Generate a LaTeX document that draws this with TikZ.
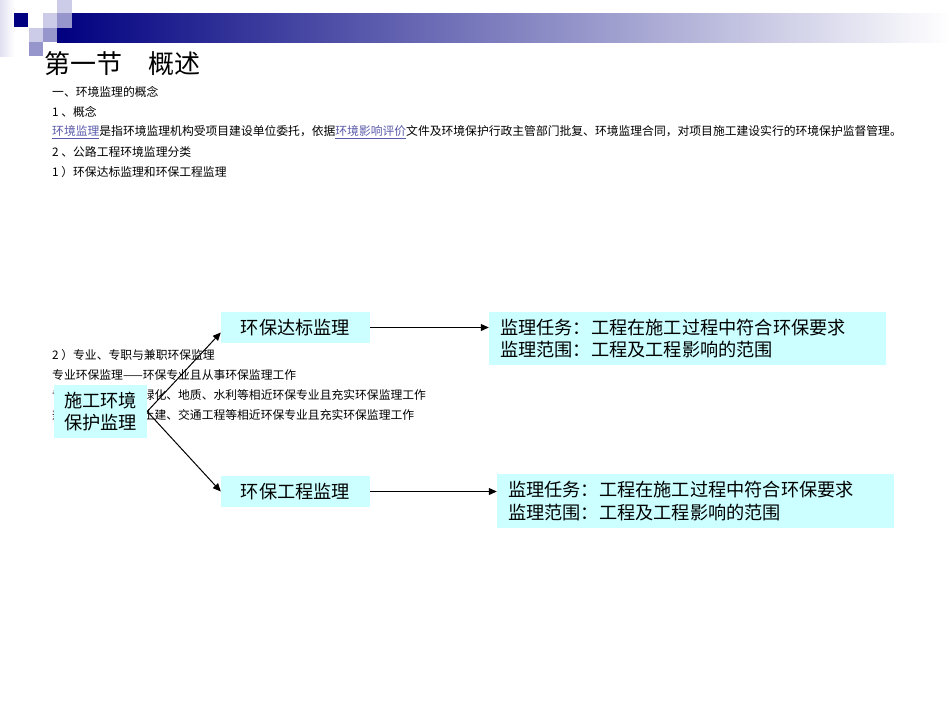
\documentclass[tikz,border=0pt]{standalone}
\usepackage{fontspec}
\setmainfont{Noto Sans CJK SC}
\usetikzlibrary{arrows.meta}
\definecolor{cajacyan}{RGB}{204,255,255}
\definecolor{azulosc}{RGB}{0,0,128}
\definecolor{lila}{RGB}{204,204,232}
\definecolor{lilamed}{RGB}{150,150,204}
\definecolor{enlace}{RGB}{90,90,170}
\begin{document}
\begin{tikzpicture}[x=1pt, y=-1pt,
  txt/.style={anchor=west, inner sep=0pt, font=\fontsize{11.8}{13}\selectfont},
  caja/.style={fill=cajacyan, inner sep=0pt, font=\fontsize{18.2}{22.5}\selectfont},
  flecha/.style={-{Triangle[length=8pt,width=7pt]}, line width=1pt}]
  \useasboundingbox (0,0) rectangle (950,713);

  % Cabecera
  \shade[left color=azulosc, right color=white] (57,13) rectangle (950,42.5);
  \shade[left color=lila!60, right color=white] (0,0) rectangle (14.3,56);
  \fill[azulosc] (14.3,13) rectangle (27.5,27);
  \fill[lila] (43,13) rectangle (57,27.5);
  \fill[lila] (57,0) rectangle (71.5,13);
  \fill[lilamed] (57,13) rectangle (71.5,27.5);
  \fill[lila] (28.6,27.5) rectangle (43,42);
  \fill[lilamed] (43,27.5) rectangle (57,42);
  \fill[lilamed] (28.6,42) rectangle (43,56);
  \node[anchor=west, inner sep=0pt, font=\fontsize{26}{30}\selectfont] (t) at (44,64) {第一节　概述};

  % Texto
  \node[txt] (l1) at (52,92) {一、环境监理的概念};
  \node[txt] (l2) at (52,112) {1 、概念};
  \node[txt] (l3) at (52,132) {\textcolor{enlace}{\underline{环境监理}}是指环境监理机构受项目建设单位委托，依据\textcolor{enlace}{\underline{环境影响评价}}文件及环境保护行政主管部门批复、环境监理合同，对项目施工建设实行的环境保护监督管理。};
  \node[txt] (l4) at (52,152) {2 、公路工程环境监理分类};
  \node[txt] (l5) at (52,172) {1 ）环保达标监理和环保工程监理};
  \node[txt] (m1) at (52,355) {2 ）专业、专职与兼职环保监理};
  \node[txt] (m2) at (52,375) {专业环保监理——环保专业且从事环保监理工作};
  \node[txt] (m3) at (52,395) {专职环保监理——绿化、地质、水利等相近环保专业且充实环保监理工作};
  \node[txt] (m4) at (52,415) {兼职环保监理——土建、交通工程等相近环保专业且充实环保监理工作};

  % Cajas
  \node[caja, minimum width=93pt, minimum height=53pt, align=center] (sg) at (100.5,411.5) {施工环境\\保护监理};
  \node[caja, minimum width=149pt, minimum height=31pt] (db) at (295.5,327.5) {环保达标监理};
  \node[caja, minimum width=149pt, minimum height=31pt] (gc) at (295.5,491.5) {环保工程监理};
  \node[caja, inner xsep=11pt, text width=375pt, minimum height=53pt, align=left] (rdb) at (687.5,338.5) {监理任务：工程在施工过程中符合环保要求\\监理范围：工程及工程影响的范围};
  \node[caja, inner xsep=11pt, text width=375pt, minimum height=54pt, align=left] (rgc) at (695.5,501) {监理任务：工程在施工过程中符合环保要求\\监理范围：工程及工程影响的范围};

  % Flechas
  \draw[flecha] (sg.east) -- ([yshift=-5pt]db.west);
  \draw[flecha] (sg.east) -- (gc.west);
  \draw[flecha] (db.east) -- (db.east -| rdb.west);
  \draw[flecha] (gc.east) -- (gc.east -| rgc.west);
\end{tikzpicture}
\end{document}
